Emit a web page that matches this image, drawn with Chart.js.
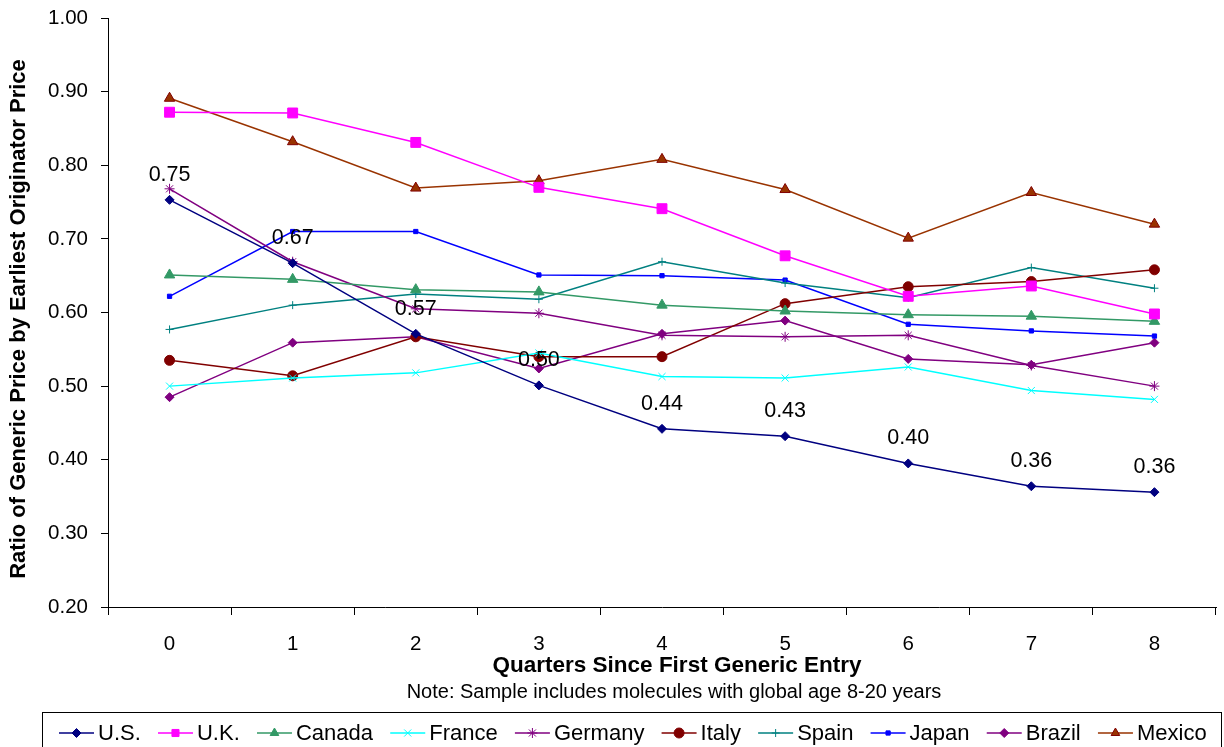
<!DOCTYPE html>
<html>
<head>
<meta charset="utf-8">
<script src="https://cdn.jsdelivr.net/npm/chart.js@4"></script>
<style>
  html, body { margin: 0; padding: 0; background: #fff; }
  #chart { display: block; }
</style>
</head>
<body>
<canvas id="chart" width="1224" height="747"></canvas>
<script>
// quarters since first generic entry
const quarters = ['0', '1', '2', '3', '4', '5', '6', '7', '8'];

// ratio of generic price by earliest originator price
const usValues      = [0.753, 0.667, 0.571, 0.501, 0.442, 0.432, 0.395, 0.364, 0.356];
const ukValues      = [0.872, 0.871, 0.831, 0.770, 0.741, 0.677, 0.622, 0.636, 0.598];
const canadaValues  = [0.651, 0.645, 0.631, 0.628, 0.610, 0.602, 0.597, 0.595, 0.588];
const franceValues  = [0.500, 0.511, 0.518, 0.545, 0.513, 0.511, 0.526, 0.494, 0.482];
const germanyValues = [0.768, 0.669, 0.605, 0.599, 0.569, 0.567, 0.569, 0.528, 0.500];
const italyValues   = [0.535, 0.514, 0.567, 0.540, 0.540, 0.612, 0.635, 0.642, 0.658];
const spainValues   = [0.577, 0.610, 0.625, 0.618, 0.669, 0.640, 0.620, 0.661, 0.633];
const japanValues   = [0.622, 0.710, 0.710, 0.651, 0.650, 0.644, 0.584, 0.575, 0.568];
const brazilValues  = [0.485, 0.559, 0.567, 0.524, 0.571, 0.589, 0.537, 0.529, 0.559];
const mexicoValues  = [0.891, 0.832, 0.769, 0.779, 0.808, 0.767, 0.701, 0.763, 0.720];

const yTicks = [0.2, 0.3, 0.4, 0.5, 0.6, 0.7, 0.8, 0.9, 1.0];

const FONT = 'Arial, "Liberation Sans", sans-serif';

function series(label, data, color, style, radius, border) {
    return {
        label: label,
        data: data,
        borderColor: color,
        backgroundColor: color,
        pointBackgroundColor: color,
        pointBorderColor: border || color,
        pointStyle: style,
        pointRadius: radius,
        pointBorderWidth: 1,
        borderWidth: 1.5,
        tension: 0,
        fill: false
    };
}

const datasets = [
    series('U.S.', usValues, '#000080', 'rectRot', 4.5),
    series('U.K.', ukValues, '#FF00FF', 'rect', 7),
    series('Canada', canadaValues, '#339966', 'triangle', 6),
    series('France', franceValues, '#00FFFF', 'crossRot', 5),
    series('Germany', germanyValues, '#800080', 'star', 5),
    series('Italy', italyValues, '#800000', 'circle', 5),
    series('Spain', spainValues, '#008080', 'cross', 4),
    series('Japan', japanValues, '#0000FF', 'rect', 3),
    series('Brazil', brazilValues, '#800080', 'rectRot', 4.5),
    series('Mexico', mexicoValues, '#993300', 'triangle', 6, '#800000')
];

// value labels above the U.S. series
const usLabels = {
    id: 'usLabels',
    afterDatasetsDraw(chart) {
        const ctx = chart.ctx;
        const meta = chart.getDatasetMeta(0);
        ctx.save();
        ctx.font = '21.5px ' + FONT;
        ctx.fillStyle = '#000';
        ctx.textAlign = 'center';
        ctx.textBaseline = 'middle';
        meta.data.forEach((pt, i) => {
            ctx.fillText(usValues[i].toFixed(2), pt.x, pt.y - 25);
        });
        ctx.restore();
    }
};

// axis titles, note line and boxed legend
const textBlock = {
    id: 'textBlock',
    afterDraw(chart) {
        const ctx = chart.ctx;
        ctx.save();
        ctx.fillStyle = '#000';
        ctx.textAlign = 'center';
        ctx.textBaseline = 'middle';

        ctx.font = 'bold 22.5px ' + FONT;
        ctx.fillText('Quarters Since First Generic Entry', 677, 666);

        ctx.font = '20px ' + FONT;
        ctx.fillText('Note: Sample includes molecules with global age 8-20 years', 674, 692);

        ctx.save();
        ctx.translate(19, 319);
        ctx.rotate(-Math.PI / 2);
        ctx.font = 'bold 22px ' + FONT;
        ctx.fillText('Ratio of Generic Price by Earliest Originator Price', 0, 0);
        ctx.restore();

        ctx.strokeStyle = '#000';
        ctx.lineWidth = 1;
        ctx.strokeRect(42.5, 712.5, 1179, 40);

        ctx.font = '22px ' + FONT;
        ctx.textAlign = 'left';
        const cy = 733;
        let x = 59;
        chart.data.datasets.forEach(ds => {
            ctx.strokeStyle = ds.borderColor;
            ctx.lineWidth = 1.5;
            ctx.beginPath();
            ctx.moveTo(x, cy);
            ctx.lineTo(x + 35, cy);
            ctx.stroke();
            ctx.fillStyle = ds.pointBackgroundColor;
            ctx.strokeStyle = ds.pointBorderColor;
            ctx.lineWidth = 1;
            Chart.helpers.drawPoint(ctx, {
                pointStyle: ds.pointStyle,
                radius: Math.min(ds.pointRadius, 5),
                rotation: 0,
                borderWidth: 1
            }, x + 17.5, cy);
            ctx.fillStyle = '#000';
            ctx.fillText(ds.label, x + 39, cy + 1);
            x += 39 + ctx.measureText(ds.label).width + 17.2;
        });
        ctx.restore();
    }
};

new Chart(document.getElementById('chart'), {
    type: 'line',
    data: {
        labels: quarters,
        datasets: datasets
    },
    options: {
        responsive: false,
        devicePixelRatio: 1,
        animation: false,
        layout: {
            padding: { top: 18, right: 4, bottom: 69, left: 0 }
        },
        plugins: {
            legend: { display: false },
            tooltip: { enabled: false }
        },
        scales: {
            x: {
                offset: true,
                afterFit(scale) {
                    scale.height = 71;
                },
                grid: {
                    display: true,
                    offset: true,
                    drawOnChartArea: false,
                    tickLength: 8,
                    color: '#000'
                },
                border: { display: true, color: '#000', width: 1 },
                ticks: {
                    color: '#000',
                    font: { family: FONT, size: 20.5 },
                    padding: 17
                }
            },
            y: {
                min: 0.2,
                max: 1.0,
                afterBuildTicks(axis) {
                    axis.ticks = yTicks.map(v => ({ value: v }));
                },
                afterFit(scale) {
                    scale.width = 108;
                    scale.paddingTop = 0;
                    scale.paddingBottom = 0;
                },
                grid: {
                    display: true,
                    drawOnChartArea: false,
                    tickLength: 7,
                    color: '#000'
                },
                border: { display: true, color: '#000', width: 1 },
                ticks: {
                    color: '#000',
                    font: { family: FONT, size: 20.5 },
                    padding: 13,
                    callback: v => Number(v).toFixed(2)
                }
            }
        }
    },
    plugins: [usLabels, textBlock]
});
</script>
</body>
</html>
